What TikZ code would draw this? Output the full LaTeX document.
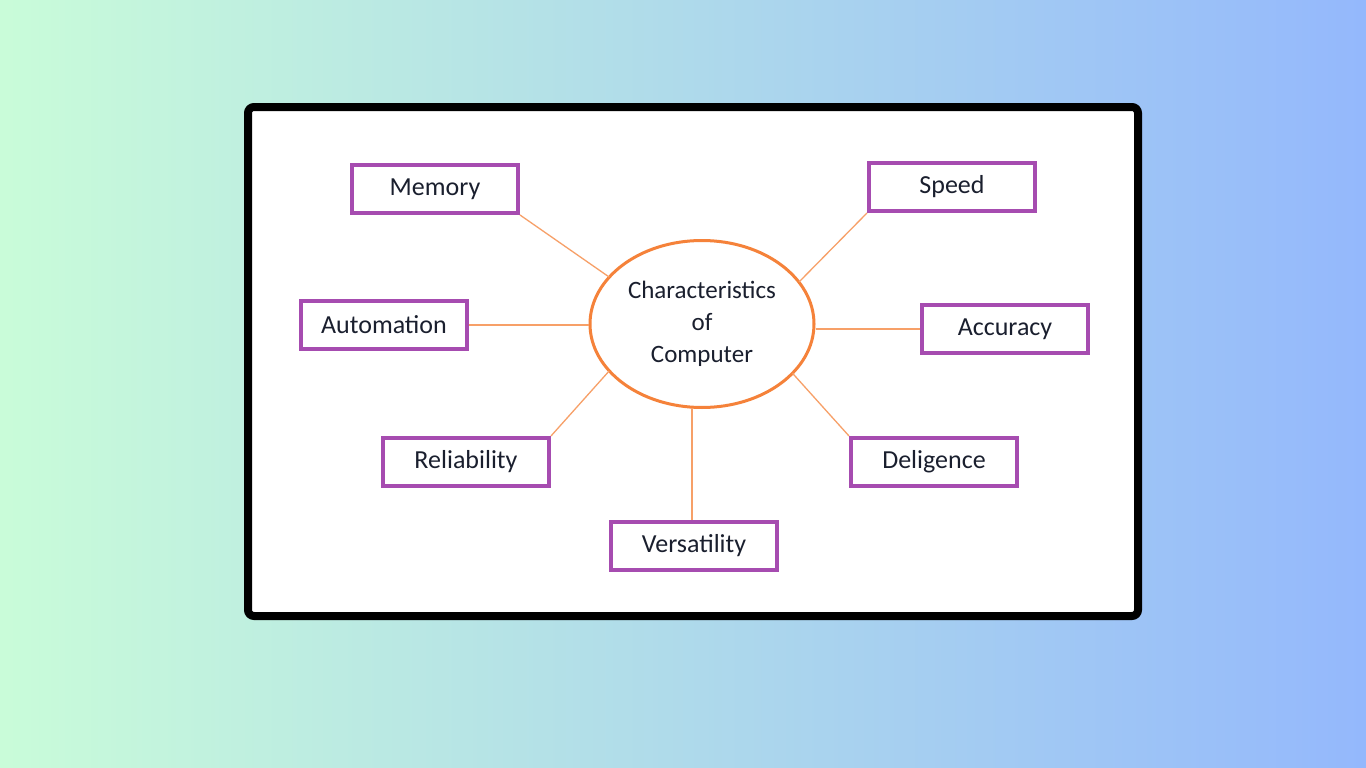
\documentclass[tikz,border=0pt]{standalone}
\usepackage{fontspec}
\setmainfont{Carlito}
\usetikzlibrary{shapes.geometric}
\definecolor{bgl}{HTML}{C9FCD9}
\definecolor{bgr}{HTML}{94B8FC}
\definecolor{pbox}{HTML}{A64CB0}
\definecolor{oell}{HTML}{F5823A}
\definecolor{oline}{HTML}{F7A068}
\definecolor{txt}{HTML}{1A1F2E}
\tikzset{
  item/.style={draw=pbox, line width=4pt, fill=white, minimum width=166pt, minimum height=48pt, inner sep=0pt, text=txt, font=\fontsize{26}{28}\selectfont},
  link/.style={draw=oline, line width=1.3pt},
}
\begin{document}
\begin{tikzpicture}[x=1pt,y=-1pt]
\useasboundingbox (0,0) rectangle (1366,768);
\shade[left color=bgl, right color=bgr] (0,0) rectangle (1366,768);
\draw[line width=8pt, rounded corners=6pt, fill=white] (248,107) rectangle (1138,616);
\node[ellipse, draw=oell, line width=3pt, minimum width=224pt, minimum height=167pt, inner sep=0pt, align=center, text=txt, font=\fontsize{25}{32}\selectfont] (c) at (702,324) {Characteristics\\of\\Computer};
\coordinate (e1) at ([shift={(-146:112 and 84)}]c.center);
\coordinate (e2) at ([shift={(-30:112 and 84)}]c.center);
\coordinate (e3) at ([shift={(146:112 and 84)}]c.center);
\coordinate (e4) at ([shift={(36:112 and 84)}]c.center);
\coordinate (e5) at (692,408);
\node[item] (mem) at (435,189) {Memory};
\node[item] (spd) at (952,187) {Speed};
\node[item] (aut) at (384,325) {Automation};
\node[item] (acc) at (1005,329) {Accuracy};
\node[item] (rel) at (466,462) {Reliability};
\node[item] (del) at (934,462) {Deligence};
\node[item] (ver) at (694,546) {Versatility};
\draw[link] (mem.south east) -- (e1);
\draw[link] (spd.south west) -- (e2);
\draw[link] (aut.east) -- (aut.east -| c.west);
\draw[link] (acc.west) -- (acc.west -| c.east);
\draw[link] (rel.north east) -- (e3);
\draw[link] (del.north west) -- (e4);
\draw[link] (ver.north -| e5) -- (e5);
\end{tikzpicture}
\end{document}
